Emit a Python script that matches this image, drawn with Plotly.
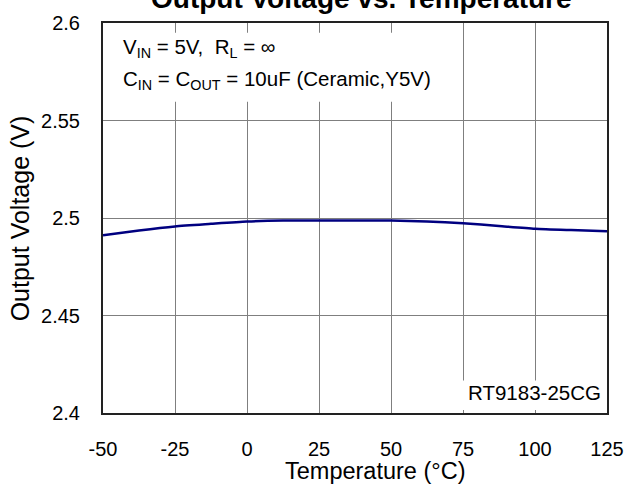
import plotly.graph_objects as go

temperature = [-50, -37.5, -25, -12.5, 0, 12.5, 25, 37.5, 50, 62.5, 75, 87.5, 100, 112.5, 125]
voltage = [2.4911, 2.4936, 2.4957, 2.4970, 2.4982, 2.4987, 2.4987, 2.4987, 2.4987, 2.4982, 2.4973, 2.4959, 2.4945, 2.4938, 2.4932]

x_ticks = [-50, -25, 0, 25, 50, 75, 100, 125]
y_ticks = [2.4, 2.45, 2.5, 2.55, 2.6]
y_tick_labels = ["2.4", "2.45", "2.5", "2.55", "2.6"]

FONT = "Liberation Sans, Arial, sans-serif"
L, T, W, H = 103, 17, 506, 396  # plot area in pixels


def px(x):
    return (x - L) / W


def py(y):
    return (T + H - y) / H


fig = go.Figure()
fig.add_trace(go.Scatter(x=temperature, y=voltage, mode="lines",
                         line=dict(color="#000080", width=2.5, shape="spline", smoothing=0.6),
                         showlegend=False, hoverinfo="skip"))

fig.update_layout(
    width=636, height=487,
    margin=dict(l=L, r=636 - L - W, t=T, b=487 - T - H),
    paper_bgcolor="white", plot_bgcolor="white",
    font=dict(family=FONT, color="black", size=20),
    showlegend=False,
)
fig.update_xaxes(range=[-50, 125], tickvals=x_ticks, ticktext=[str(v) for v in x_ticks],
                 showgrid=True, gridcolor="#7f7f7f", gridwidth=1,
                 showline=True, linecolor="#222222", linewidth=2, mirror=True,
                 ticks="", ticklabelstandoff=17, zeroline=False,
                 tickfont=dict(size=20, family=FONT))
fig.update_yaxes(range=[2.4, 2.6], tickvals=y_ticks, ticktext=y_tick_labels,
                 showgrid=True, gridcolor="#7f7f7f", gridwidth=1,
                 showline=True, linecolor="#222222", linewidth=2, mirror=True,
                 ticks="", ticklabelstandoff=17, zeroline=False,
                 tickfont=dict(size=20, family=FONT))

# white boxes covering gridlines behind the labels
fig.add_shape(type="rect", xref="x", yref="y", x0=-49.5, x1=67, y0=2.5596, y1=2.595,
              fillcolor="white", line=dict(width=0), layer="between")
fig.add_shape(type="rect", xref="x", yref="y", x0=70, x1=124.5, y0=2.4015, y1=2.4167,
              fillcolor="white", line=dict(width=0), layer="between")

fig.add_annotation(xref="paper", yref="paper", x=px(121), y=py(42),
                   xanchor="left", yanchor="middle", showarrow=False, align="left",
                   text="V<sub>IN</sub> = 5V,  R<sub>L</sub> = ∞",
                   font=dict(size=20.5, family=FONT))
fig.add_annotation(xref="paper", yref="paper", x=px(121), y=py(75),
                   xanchor="left", yanchor="middle", showarrow=False, align="left",
                   text="C<sub>IN</sub> = C<sub>OUT</sub> = 10uF (Ceramic,Y5V)",
                   font=dict(size=20.5, family=FONT))
fig.add_annotation(xref="paper", yref="paper", x=px(605), y=py(392),
                   xanchor="right", yanchor="middle", showarrow=False,
                   text="RT9183-25CG", font=dict(size=20.5, family=FONT))
# axis titles
fig.add_annotation(xref="paper", yref="paper", x=px(376), y=py(472),
                   xanchor="center", yanchor="middle", showarrow=False,
                   text="Temperature (°C)", font=dict(size=23.5, family=FONT))
fig.add_annotation(xref="paper", yref="paper", x=px(20), y=py(215),
                   xanchor="center", yanchor="middle", showarrow=False, textangle=-90,
                   text="Output Voltage (V)", font=dict(size=25, family=FONT))
# chart title (cut off at the top edge, as in the reference)
fig.add_annotation(xref="paper", yref="paper", x=px(363), y=py(-8),
                   xanchor="center", yanchor="middle", showarrow=False,
                   text="<b>Output Voltage vs. Temperature</b>", font=dict(size=28, family=FONT))

fig.write_html("out.html")
